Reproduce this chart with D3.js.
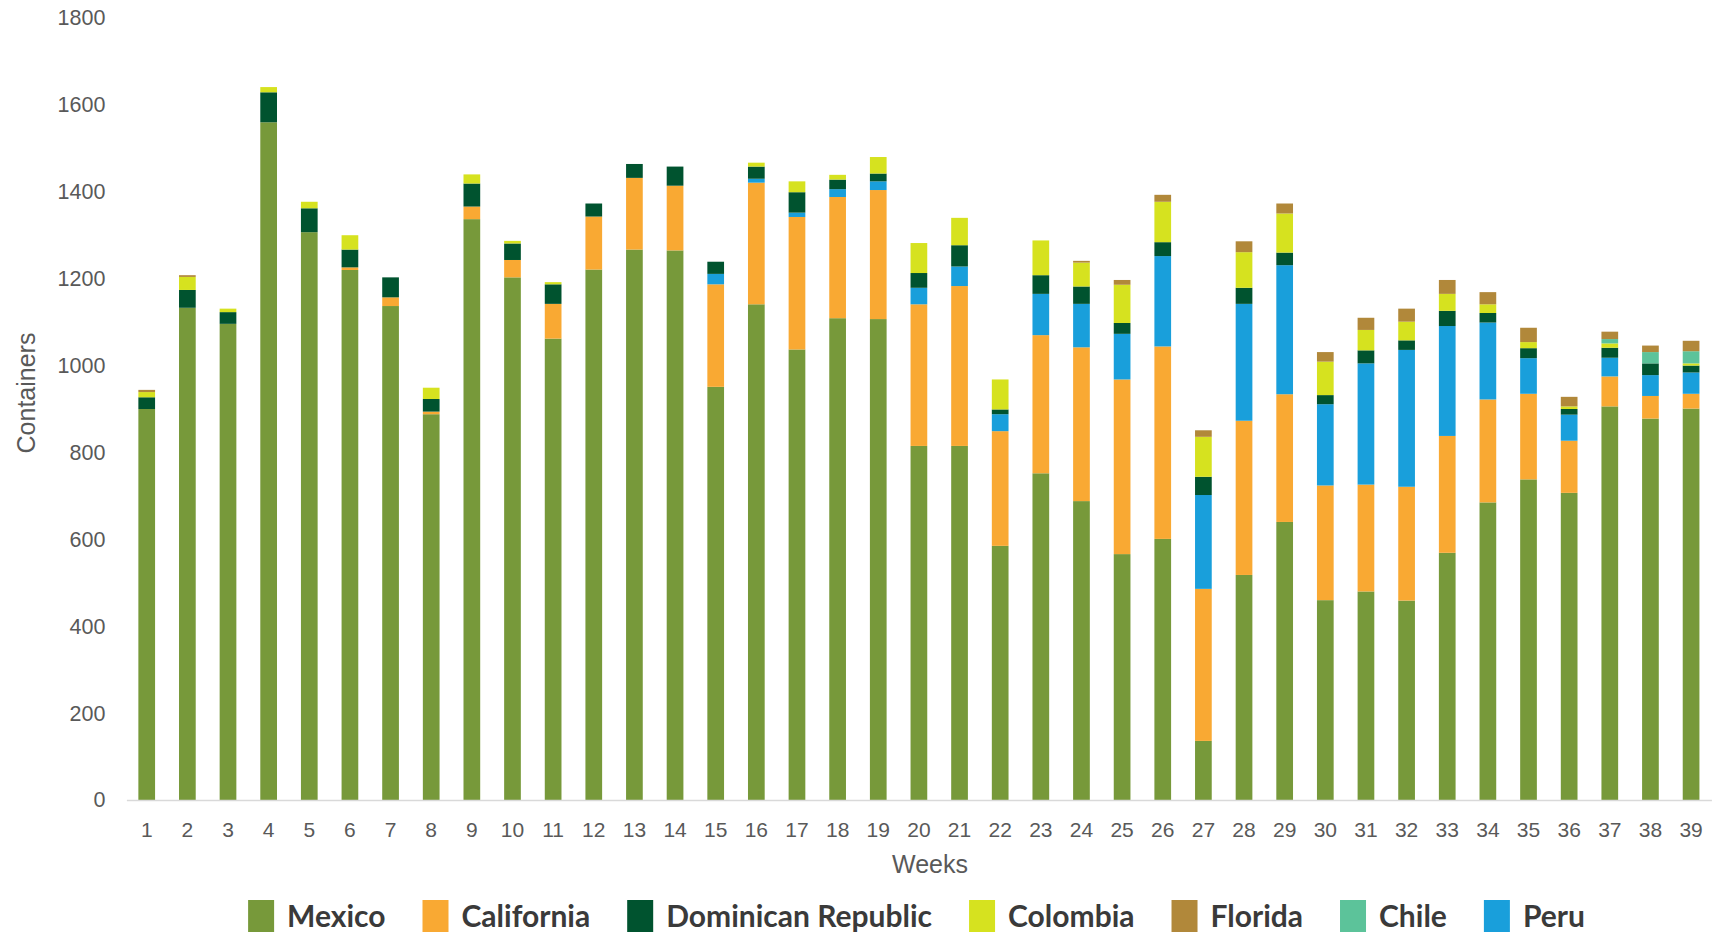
<!DOCTYPE html>
<html>
<head>
<meta charset="utf-8">
<script src="https://cdn.jsdelivr.net/npm/d3@7"></script>
<style>
  html, body { margin: 0; padding: 0; background: #ffffff; }
  svg { display: block; }
</style>
</head>
<body>
<svg id="chart" width="1714" height="934"></svg>
<script>
// ---- Data ----
const weeks = d3.range(1, 40).map(String);
const yTicks = [0, 200, 400, 600, 800, 1000, 1200, 1400, 1600, 1800];

const mexico = [900,1133,1096,1560,1307,1220,1137,888,1337,1203,
                1062,1221,1267,1265,951,1141,1037,1109,1107,815,
                815,585,752,688,566,601,136,518,640,460,
                480,459,569,685,738,707,906,878,901];
const california = [0,0,0,0,0,6,20,6,29,40,
                    80,122,165,149,236,280,305,279,297,326,
                    368,264,318,354,402,443,350,355,294,264,
                    246,262,269,237,197,120,69,52,34];
const peru = [0,0,0,0,0,0,0,0,0,0,
              0,0,0,0,24,9,10,18,20,38,
              45,39,95,100,105,208,216,269,297,187,
              279,315,253,177,82,60,43,48,49];
const dominican = [27,41,27,69,55,41,46,29,53,38,
                   45,30,32,44,28,28,47,22,18,34,
                   49,11,43,40,25,32,42,37,29,21,
                   30,22,35,22,23,13,23,27,16];
const colombia = [12,30,8,12,15,33,0,26,21,6,
                  5,0,0,0,0,9,25,11,38,69,
                  63,69,80,55,88,93,92,82,90,77,
                  47,43,39,20,14,6,10,0,5];
const chile = [0,0,0,0,0,0,0,0,0,0,
               0,0,0,0,0,0,0,0,0,0,
               0,0,0,0,0,0,0,0,0,0,
               0,0,0,0,0,0,10,26,28];
const florida = [5,4,0,0,0,0,0,0,0,0,
                 0,0,0,0,0,0,0,0,0,0,
                 0,0,0,4,11,16,15,25,23,22,
                 28,30,32,28,33,22,17,15,24];

// stacking order (bottom to top)
const stackKeys = ["Mexico", "California", "Peru", "Dominican Republic", "Colombia", "Chile", "Florida"];
// legend order
const legendKeys = ["Mexico", "California", "Dominican Republic", "Colombia", "Florida", "Chile", "Peru"];
const seriesData = {
  "Mexico": mexico, "California": california, "Peru": peru,
  "Dominican Republic": dominican, "Colombia": colombia,
  "Chile": chile, "Florida": florida
};
const colors = {
  "Mexico": "#77993a",
  "California": "#f9a933",
  "Dominican Republic": "#00532f",
  "Colombia": "#d6e21f",
  "Florida": "#b1883a",
  "Chile": "#5cc39a",
  "Peru": "#199fdb"
};

// ---- Layout ----
const svg = d3.select("#chart");
const plot = { left: 126.4, right: 1711.4, top: 18, bottom: 800 };

const rows = weeks.map((w, i) => {
  const r = { week: w };
  stackKeys.forEach(k => r[k] = seriesData[k][i]);
  return r;
});
const stacked = d3.stack().keys(stackKeys)(rows);

const x = d3.scaleBand().domain(weeks).range([plot.left, plot.right])
  .paddingInner(0.589).paddingOuter(0.2945);
const y = d3.scaleLinear().domain([0, 1800]).range([plot.bottom, plot.top]);

// bars
svg.append("g").selectAll("g").data(stacked).join("g")
  .attr("fill", d => colors[d.key])
  .selectAll("rect").data(d => d.filter(s => s[1] - s[0] > 0)).join("rect")
  .attr("x", d => x(d.data.week))
  .attr("width", x.bandwidth())
  .attr("y", d => y(d[1]))
  .attr("height", d => y(d[0]) - y(d[1]));

// y axis (labels only)
const yAxis = svg.append("g")
  .attr("transform", `translate(${plot.left},0)`)
  .call(d3.axisLeft(y).tickValues(yTicks).tickSize(0).tickPadding(21).tickFormat(d3.format("d")));
yAxis.select(".domain").remove();
yAxis.selectAll("text")
  .attr("font-family", "'Liberation Sans', Arial, sans-serif")
  .attr("font-size", 21.5)
  .attr("fill", "#595959");

// x axis
const xAxis = svg.append("g")
  .attr("transform", `translate(0,${plot.bottom})`)
  .call(d3.axisBottom(x).tickSize(0).tickPadding(22));
xAxis.select(".domain").attr("stroke", "#d9d9d9").attr("stroke-width", 1.5);
xAxis.selectAll("text")
  .attr("font-family", "'Liberation Sans', Arial, sans-serif")
  .attr("font-size", 21)
  .attr("fill", "#595959");

// axis titles
svg.append("text")
  .attr("x", 930).attr("y", 873)
  .attr("text-anchor", "middle")
  .attr("font-family", "'Liberation Sans', Arial, sans-serif")
  .attr("font-size", 25)
  .attr("fill", "#595959")
  .text("Weeks");

svg.append("text")
  .attr("transform", "translate(35,393) rotate(-90)")
  .attr("text-anchor", "middle")
  .attr("font-family", "'Liberation Sans', Arial, sans-serif")
  .attr("font-size", 25)
  .attr("fill", "#595959")
  .text("Containers");

// legend
const legend = svg.append("g");
const swW = 26, swH = 32, gapText = 13, gapItem = 37;
let cx = 0;
legendKeys.forEach(k => {
  const g = legend.append("g").attr("transform", `translate(${cx},0)`);
  g.append("rect").attr("x", 0).attr("y", -swH / 2).attr("width", swW).attr("height", swH)
    .attr("fill", colors[k]);
  const t = g.append("text")
    .attr("x", swW + gapText).attr("y", 0)
    .attr("dy", "0.35em")
    .attr("font-family", "Lato, 'Open Sans', sans-serif")
    .attr("font-weight", 700)
    .attr("font-size", 30)
    .attr("fill", "#3a3a3a")
    .text(k);
  cx += swW + gapText + t.node().getComputedTextLength() + gapItem;
});
const legendWidth = cx - gapItem;
legend.attr("transform", `translate(${916.5 - legendWidth / 2},916)`);
</script>
</body>
</html>
